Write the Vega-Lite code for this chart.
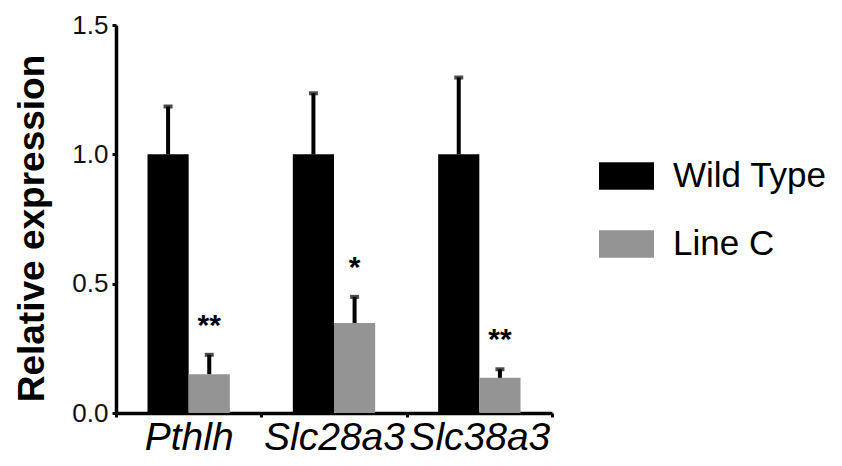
{
  "$schema": "https://vega.github.io/schema/vega-lite/v6.json",
  "autosize": {"type": "none"},
  "padding": {"left": 116, "top": 25, "right": 290, "bottom": 53},
  "width": 436,
  "height": 388,
  "background": "white",
  "config": {
    "view": {"stroke": null},
    "font": "Liberation Sans",
    "axis": {"grid": false, "domainColor": "black", "domainWidth": 3.5, "tickColor": "black", "labelColor": "black", "titleColor": "black"}
  },
  "data": {
    "values": [
      {"gene": "Pthlh", "group": "Wild Type", "mean": 1.0, "upper": 1.185, "sig": ""},
      {"gene": "Pthlh", "group": "Line C", "mean": 0.15, "upper": 0.225, "sig": "**"},
      {"gene": "Slc28a3", "group": "Wild Type", "mean": 1.0, "upper": 1.236, "sig": ""},
      {"gene": "Slc28a3", "group": "Line C", "mean": 0.348, "upper": 0.449, "sig": "*"},
      {"gene": "Slc38a3", "group": "Wild Type", "mean": 1.0, "upper": 1.297, "sig": ""},
      {"gene": "Slc38a3", "group": "Line C", "mean": 0.136, "upper": 0.169, "sig": "**"}
    ]
  },
  "encoding": {
    "x": {
      "field": "gene", "type": "nominal", "sort": ["Pthlh", "Slc28a3", "Slc38a3"],
      "scale": {"paddingInner": 0, "paddingOuter": 0},
      "axis": {"title": null, "labelAngle": 0, "labelFontSize": 39, "labelFontStyle": "italic", "labelPadding": 1, "tickSize": 4, "tickWidth": 3, "tickBand": "extent"}
    },
    "xOffset": {
      "field": "group", "type": "nominal", "sort": ["Wild Type", "Line C"],
      "scale": {"paddingInner": 0, "paddingOuter": 0.765}
    }
  },
  "layer": [
    {
      "mark": {"type": "bar", "opacity": 1},
      "encoding": {
        "y": {
          "field": "mean", "type": "quantitative",
          "scale": {"domain": [0, 1.5], "nice": false},
          "axis": {"title": "Relative expression", "titleFontSize": 37, "titleFontWeight": "bold", "titleAngle": 270, "titleBaseline": "middle", "titleAlign": "center", "titleX": -84, "titleY": 203, "values": [0, 0.5, 1, 1.5], "format": ".1f", "labelFontSize": 26, "labelColor": "#111111", "labelPadding": 4, "tickSize": 4, "tickWidth": 3}
        },
        "color": {
          "field": "group", "type": "nominal", "sort": ["Wild Type", "Line C"],
          "scale": {"domain": ["Wild Type", "Line C"], "range": ["#000000", "#949494"]},
          "legend": {"title": null, "orient": "none", "legendX": 483, "legendY": 123.5, "padding": 0, "symbolType": "M-1,-0.5H1V0.5H-1Z", "symbolSize": 3025, "symbolStrokeWidth": 0, "symbolOpacity": 1, "labelFontSize": 35, "labelColor": "black", "labelOffset": 19, "rowPadding": 22}
        }
      }
    },
    {
      "mark": {"type": "rule", "color": "black", "strokeWidth": 4},
      "encoding": {
        "y": {"field": "mean", "type": "quantitative"},
        "y2": {"field": "upper"}
      }
    },
    {
      "mark": {"type": "tick", "color": "black", "size": 9, "thickness": 4, "orient": "horizontal"},
      "encoding": {
        "y": {"field": "upper", "type": "quantitative"}
      }
    },
    {
      "mark": {"type": "text", "color": "black", "fontSize": 30, "fontWeight": "bold", "baseline": "alphabetic", "dy": -20},
      "encoding": {
        "y": {"field": "upper", "type": "quantitative"},
        "text": {"field": "sig"}
      }
    }
  ]
}
